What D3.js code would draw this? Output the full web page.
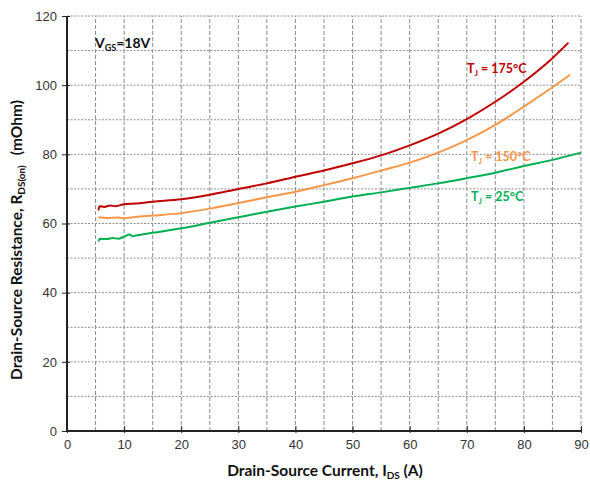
<!DOCTYPE html>
<html><head><meta charset="utf-8">
<script src="https://cdn.jsdelivr.net/npm/d3@7"></script>
<style>
body{margin:0;background:#fff;}
svg{display:block;}
</style></head>
<body><svg id="c" width="590" height="484"></svg>
<script>
// ---- data ----
const xTicks = [0,10,20,30,40,50,60,70,80,90];
const yTicks = [0,20,40,60,80,100,120];
const xGrid = [5,10,15,20,25,30,35,40,45,50,55,60,65,70,75,80,85,90];
const yGrid = [10,20,30,40,50,60,70,80,90,100,110,120];

const x175 = [5.5,5.7,6.5,7.5,8.5,10,12,15,20,25,30,35,40,45,50,55,60,65,70,75,80,85,87.8];
const r175 = [63.8,65.0,64.8,65.2,65.0,65.6,65.8,66.3,67.0,68.3,70.0,71.6,73.5,75.3,77.4,79.7,82.6,86.0,90.2,95.2,101.0,107.8,112.3];

const x150 = [5.5,7,9,10,12,15,20,25,30,35,40,45,50,55,60,65,70,75,80,85,88.1];
const r150 = [61.8,61.6,61.7,61.5,61.9,62.3,63.0,64.3,65.9,67.6,69.2,71.1,73.1,75.3,77.6,80.5,84.1,88.5,93.8,99.4,103.0];

const x25 = [5.5,5.7,7,8,9,10,11,11.5,12,15,20,25,30,35,40,45,50,55,60,65,70,75,80,85,90];
const r25 = [54.8,55.6,55.5,55.8,55.6,56.2,56.8,56.3,56.5,57.3,58.6,60.2,61.8,63.4,64.9,66.3,67.8,69.0,70.3,71.6,73.1,74.7,76.6,78.4,80.5];

const seriesNames = ["175°C","150°C","25°C"];
const seriesColors = ["#c00000","#f79646","#00b050"];

// ---- chart ----
const svg = d3.select("#c");
const m = {l:67, r:9, t:16, b:53};
const W = 590, H = 484;
const x = d3.scaleLinear().domain([0,90]).range([m.l, W-m.r]);
const y = d3.scaleLinear().domain([0,120]).range([H-m.b, m.t]);

// grid
svg.append("g").selectAll("line").data(yGrid).join("line")
  .attr("x1", x(0)).attr("x2", x(90))
  .attr("y1", d=>y(d)).attr("y2", d=>y(d))
  .attr("stroke","#8c8c8c").attr("stroke-width",1).attr("stroke-dasharray","2,1.5");
svg.append("g").selectAll("line").data(xGrid).join("line")
  .attr("x1", d=>x(d)).attr("x2", d=>x(d))
  .attr("y1", y(0)).attr("y2", y(120))
  .attr("stroke","#8c8c8c").attr("stroke-width",1).attr("stroke-dasharray","4,2");

// axes
const xAxis = d3.axisBottom(x).tickValues(xTicks).tickSize(4).tickSizeOuter(0);
const gx = svg.append("g").attr("transform",`translate(0,${y(0)-2})`).call(xAxis);
gx.select(".domain").remove();
gx.selectAll(".tick line").attr("y1",-3).attr("y2",4).attr("stroke","#222");
gx.selectAll("text").attr("y",11).attr("font-family","Liberation Sans, Arial, sans-serif")
  .attr("font-size",13).attr("fill","#333");

const yAxis = d3.axisLeft(y).tickValues(yTicks).tickSize(4).tickSizeOuter(0);
const gy = svg.append("g").attr("transform",`translate(${x(0)},0)`).call(yAxis);
gy.select(".domain").remove();
gy.selectAll(".tick line").attr("x1",-5).attr("x2",3).attr("stroke","#222");
gy.selectAll("text").attr("x",-10).attr("font-family","Liberation Sans, Arial, sans-serif")
  .attr("font-size",13).attr("fill","#333");

svg.append("line").attr("x1",x(0)).attr("x2",x(0)).attr("y1",y(0)).attr("y2",y(120))
  .attr("stroke","#222").attr("stroke-width",2);
svg.append("line").attr("x1",x(0)-1).attr("x2",x(90)).attr("y1",y(0)).attr("y2",y(0))
  .attr("stroke","#222").attr("stroke-width",2);

// lines
const line = d3.line().x(d=>x(d[0])).y(d=>y(d[1])).curve(d3.curveMonotoneX);
const series = [d3.zip(x175,r175), d3.zip(x150,r150), d3.zip(x25,r25)];
svg.append("g").selectAll("path").data(series).join("path")
  .attr("d", line).attr("fill","none")
  .attr("stroke",(d,i)=>seriesColors[i]).attr("stroke-width",2);

// labels
const lf = "Lato, 'Open Sans', sans-serif";
const labPos = [[467,73],[471,161],[471,201]];
seriesNames.forEach((n,i)=>{
  const t = svg.append("text").attr("x",labPos[i][0]).attr("y",labPos[i][1])
    .attr("font-family",lf).attr("font-weight","bold").attr("font-size",12.5)
    .attr("fill",seriesColors[i]);
  t.append("tspan").text("T");
  t.append("tspan").attr("font-size",8).attr("dy",3).text("J");
  t.append("tspan").attr("dy",-3).text(" = " + n);
});

const vt = svg.append("text").attr("x",95).attr("y",48)
  .attr("font-family",lf).attr("font-weight","bold").attr("font-size",14).attr("fill","#111");
vt.append("tspan").text("V");
vt.append("tspan").attr("font-size",9).attr("dy",3).text("GS");
vt.append("tspan").attr("dy",-3).text("=18V");

const xt = svg.append("text").attr("x",325).attr("y",476).attr("text-anchor","middle")
  .attr("font-family",lf).attr("font-weight","bold").attr("font-size",15.5).attr("fill","#111");
xt.append("tspan").text("Drain-Source Current, I");
xt.append("tspan").attr("font-size",10).attr("dy",3).text("DS");
xt.append("tspan").attr("dy",-3).text(" (A)");

const yt = svg.append("text").attr("transform","translate(22,240) rotate(-90)").attr("text-anchor","middle")
  .attr("font-family",lf).attr("font-weight","bold").attr("font-size",15.5).attr("fill","#111");
yt.append("tspan").text("Drain-Source Resistance, R");
yt.append("tspan").attr("font-size",10).attr("dy",3).text("DS(on)");
yt.append("tspan").attr("dy",-3).attr("dx",10).text("(mOhm)");
</script></body></html>
